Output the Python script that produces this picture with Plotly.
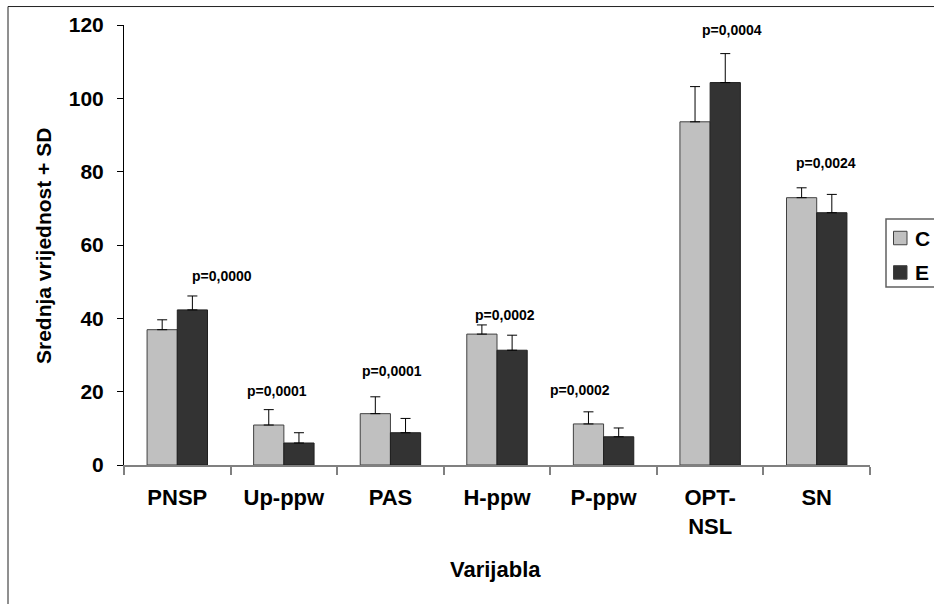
import plotly.graph_objects as go

categories = ["PNSP", "Up-ppw", "PAS", "H-ppw", "P-ppw", "OPT-<br>NSL", "SN"]
mean_C = [36.9, 10.9, 14.0, 35.7, 11.2, 93.6, 72.9]
sd_C = [2.7, 4.2, 4.6, 2.5, 3.3, 9.6, 2.7]
mean_E = [42.3, 6.0, 8.8, 31.3, 7.7, 104.3, 68.8]
sd_E = [3.8, 2.8, 3.9, 4.1, 2.4, 7.9, 5.0]
p_labels = ["p=0,0000", "p=0,0001", "p=0,0001", "p=0,0002", "p=0,0002", "p=0,0004", "p=0,0024"]
y_ticks = [0, 20, 40, 60, 80, 100, 120]

# layout-only offsets of p-value labels (pixels)
label_dx = [45, -7, 2, 8, -24, 22, 9]
label_dy = [20, 19, 26, 10, 22, 24, 25]

W, H = 934, 604
L, R, T, B = 124, 934 - 870, 24.5, 604 - 465.5
PW, PH = W - L - R, H - T - B

def px_x(p):
    return (p - L) / PW

def px_y(p):
    return (H - B - p) / PH

FONT = "Liberation Sans, Arial, sans-serif"
C_FILL, E_FILL = "#c0c0c0", "#333333"

fig = go.Figure()
fig.add_trace(go.Bar(
    x=categories, y=mean_C, name="C",
    marker=dict(color=C_FILL, line=dict(color="#404040", width=1)),
    error_y=dict(type="data", symmetric=False, array=sd_C, arrayminus=[0] * len(sd_C),
                 color="black", thickness=1, width=5),
    showlegend=False,
))
fig.add_trace(go.Bar(
    x=categories, y=mean_E, name="E",
    marker=dict(color=E_FILL, line=dict(color="#202020", width=1)),
    error_y=dict(type="data", symmetric=False, array=sd_E, arrayminus=[0] * len(sd_E),
                 color="black", thickness=1, width=5),
    showlegend=False,
))

annotations = []
for i, cat in enumerate(categories):
    top = max(mean_C[i] + sd_C[i], mean_E[i] + sd_E[i])
    annotations.append(dict(
        x=cat, y=top, xref="x", yref="y", text="<b>%s</b>" % p_labels[i],
        showarrow=False, xanchor="center", yanchor="middle",
        xshift=label_dx[i], yshift=label_dy[i],
        font=dict(family=FONT, size=14, color="black"),
    ))

# axis titles
annotations.append(dict(
    x=px_x(44), y=px_y(246), xref="paper", yref="paper",
    text="<b>Srednja vrijednost + SD</b>", textangle=-90, showarrow=False,
    xanchor="center", yanchor="middle", font=dict(family=FONT, size=21, color="black"),
))
annotations.append(dict(
    x=px_x(495), y=px_y(570), xref="paper", yref="paper",
    text="<b>Varijabla</b>", showarrow=False,
    xanchor="center", yanchor="middle", font=dict(family=FONT, size=22, color="black"),
))

# manual legend (clipped at the right edge like the reference)
shapes = [
    dict(type="rect", xref="paper", yref="paper", x0=px_x(8), x1=px_x(1100),
         y0=px_y(700), y1=px_y(6), line=dict(color="#202020", width=1), layer="below"),
    dict(type="rect", xref="paper", yref="paper", x0=px_x(886), x1=px_x(1000),
         y0=px_y(287), y1=px_y(219), line=dict(color="#606060", width=1.5),
         fillcolor="white"),
]
for name, col, yc in [("C", C_FILL, 238), ("E", E_FILL, 272.5)]:
    shapes.append(dict(type="rect", xref="paper", yref="paper",
                       x0=px_x(893.5), x1=px_x(907), y0=px_y(yc + 6.75), y1=px_y(yc - 6.75),
                       fillcolor=col, line=dict(color="#404040", width=1)))
    annotations.append(dict(x=px_x(913), y=px_y(yc), xref="paper", yref="paper",
                            text="<b>%s</b>" % name, showarrow=False,
                            xanchor="left", yanchor="middle",
                            font=dict(family=FONT, size=21, color="black")))

fig.update_layout(
    width=W, height=H,
    margin=dict(l=L, r=R, t=T, b=B, autoexpand=False),
    paper_bgcolor="white", plot_bgcolor="white",
    barmode="group", bargap=0.433, bargroupgap=0,
    annotations=annotations, shapes=shapes,
    font=dict(family=FONT, color="black"),
    xaxis=dict(
        type="category", range=[-0.5, 6.5], tickson="boundaries",
        ticks="outside", ticklen=8, tickcolor="#808080", tickwidth=1.5,
        showline=True, linecolor="#808080", linewidth=1.5,
        showgrid=False, zeroline=False,
        tickfont=dict(family=FONT, size=22, color="black"),
        ticklabelstandoff=12,
    ),
    yaxis=dict(
        range=[0, 120], tickvals=y_ticks, ticktext=["<b>%d</b>" % v for v in y_ticks],
        ticks="outside", ticklen=6, tickcolor="black", tickwidth=1,
        showline=True, linecolor="black", linewidth=1,
        showgrid=False, zeroline=False,
        tickfont=dict(family=FONT, size=21, color="black"),
        ticklabelstandoff=9,
    ),
)
fig.update_xaxes(ticktext=["<b>%s</b>" % c for c in categories], tickvals=categories)

fig.write_html("out.html")
